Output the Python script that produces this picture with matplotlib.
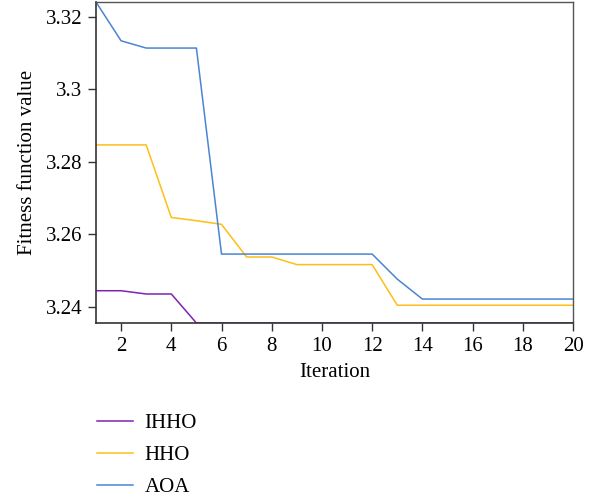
import numpy as np
import matplotlib.pyplot as plt
import matplotlib.ticker as ticker

plt.rcParams['font.family'] = ['Liberation Serif', 'DejaVu Serif']

#### Datos ####
iteraciones = list(range(1, 21))
ihho = [3.2445, 3.2445, 3.2436, 3.2436] + [3.2356] * 16
hho = [3.2847, 3.2847, 3.2847, 3.2647, 3.2638, 3.2628, 3.2538, 3.2538,
       3.2517, 3.2517, 3.2517, 3.2517] + [3.2405] * 8
aoa = [3.3241, 3.3134, 3.3114, 3.3114, 3.3114] + [3.2546] * 7 + [3.2477] + [3.2422] * 7

y_ticks = [3.24, 3.26, 3.28, 3.30, 3.32]
y_tick_labels = ['3.24', '3.26', '3.28', '3.3', '3.32']

#### Figura ####
fig = plt.figure(figsize=(5.98, 4.98), dpi=100)
ax = fig.add_axes([0.1605, 0.3514, 0.7977, 0.6446])

ax.plot(iteraciones, ihho, color='#7E22B5', linewidth=1.1, label='IHHO')
ax.plot(iteraciones, hho, color='#FDBE16', linewidth=1.1, label='HHO')
ax.plot(iteraciones, aoa, color='#4A84D4', linewidth=1.1, label='AOA')

ax.set_xlim(1, 20)
ax.set_ylim(3.2356, 3.3241)
ax.xaxis.set_major_locator(ticker.MultipleLocator(2))
ax.set_yticks(y_ticks)
ax.set_yticklabels(y_tick_labels)
ax.tick_params(direction='out', length=6, width=1, labelsize=15, color='#333333', pad=4)

for lado in ['left', 'bottom']:
    ax.spines[lado].set_color('#333333')
    ax.spines[lado].set_linewidth(1.2)
for lado in ['top', 'right']:
    ax.spines[lado].set_color('#555555')
    ax.spines[lado].set_linewidth(1.0)

ax.set_xlabel('Iteration', fontsize=15, labelpad=5)
ax.set_ylabel('Fitness function value', fontsize=15, labelpad=6)

fig.legend(loc='upper left', bbox_to_anchor=(0.149, 0.186), frameon=False,
           fontsize=15, handlelength=1.7, labelspacing=0.6, handletextpad=0.55,
           borderaxespad=0)

plt.savefig('out.png', dpi=100)
plt.close()
